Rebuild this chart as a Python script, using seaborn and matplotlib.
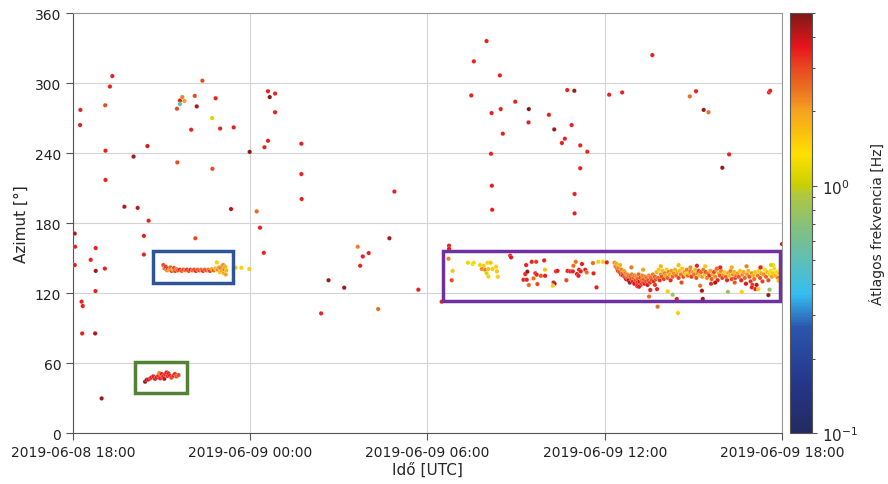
import numpy as np
import pandas as pd
import seaborn as sns
import matplotlib
matplotlib.use("Agg")
from matplotlib import pyplot as plt
from matplotlib.colors import LogNorm, LinearSegmentedColormap
from matplotlib.patches import Rectangle
import matplotlib.dates as mdates

T0 = pd.Timestamp("2019-06-08 18:00")

# scattered detections: hours after T0, azimuth [deg], mean frequency [Hz]
scat_h = [0.06, 0.07, 0.06, 0.24, 0.25, 0.29, 0.33, 0.31, 0.75, 0.6, 0.77, 0.76, 0.77, 0.97,
          1.09, 1.1, 1.1, 1.08, 1.25, 1.33, 1.74, 2.05, 2.19, 2.4, 2.52, 2.56, 2.4, 3.52, 3.53,
          3.62, 3.62, 3.7, 3.77, 4.0, 4.12, 4.14, 4.19, 4.38, 4.71, 4.72, 4.83, 4.98, 5.35, 5.44,
          5.98, 6.22, 6.33, 6.46, 6.48, 6.6, 6.6, 6.66, 6.84, 6.84, 7.73, 7.73, 7.74, 8.4, 8.65,
          9.18, 9.64, 9.72, 9.81, 10.01, 10.33, 10.71, 10.88, 11.69, 12.48,
          13.48, 13.57, 14.0, 14.15, 14.17, 14.18, 14.19, 14.45, 14.48, 14.55, 14.97, 15.42,
          15.43, 16.11, 16.29, 16.55, 16.65, 16.73, 16.88, 16.97, 16.98, 16.98, 17.17, 17.17,
          17.41, 18.15, 18.59, 19.61, 20.88, 21.09, 21.35, 21.51, 21.98, 22.21, 23.56, 23.6, 24.0]
scat_az = [171, 159.7, 144, 264, 277, 112.6, 108.9, 85.4, 85.4, 148.5, 139, 121.7, 158.6, 29.7,
           281, 242, 217, 141, 297, 306, 194, 237, 193, 169, 246, 182, 153, 278, 232,
           285, 282, 288, 284.6, 260, 289, 167, 280, 302, 270, 226.5, 287, 261, 192, 262,
           241, 190, 176, 154.5, 245, 250.5, 293, 288, 291, 275, 248, 222, 200.6, 102.6, 131,
           124.6, 159.7, 143.4, 151.4, 154.3, 106.3, 167, 207, 122.9, 112.6,
           289.4, 318.6, 336, 239.4, 274.3, 212, 191.4, 306.6, 277.7, 256.6, 284, 266.3,
           277.7, 272.8, 260.3, 248.6, 252.3, 294, 264, 293.4, 204.9, 188.3, 246.6, 227,
           241.1, 290, 292, 324, 288.6, 293, 277, 275, 227.4, 238.9, 292, 293.4, 162]
scat_f = [4.2, 3.5, 3.5, 3.5, 3.5, 3.5, 3.5, 3.5, 4.3, 3.5, 4.5, 3.5, 3.5, 4.5,
          3.0, 3.5, 3.5, 3.5, 3.5, 3.5, 4.2, 4.5, 4.2, 3.5, 3.8, 3.5, 3.5, 3.0, 3.0,
          3.6, 0.5, 2.3, 2.0, 3.5, 3.0, 3.0, 4.3, 3.0, 1.1, 3.0, 3.5, 3.5, 4.2, 3.5,
          4.8, 2.6, 3.5, 3.5, 3.5, 3.5, 3.5, 4.8, 3.5, 3.5, 3.5, 3.5, 3.5, 3.5, 4.5,
          4.5, 2.3, 3.5, 3.5, 3.5, 2.5, 4.5, 3.5, 3.5, 3.5,
          3.5, 3.5, 3.5, 3.5, 3.5, 3.5, 3.5, 3.5, 3.5, 3.5, 3.5, 3.5,
          4.8, 3.5, 4.5, 3.5, 3.5, 3.5, 3.5, 4.5, 3.5, 3.5, 3.5, 3.5,
          3.5, 3.5, 3.5, 3.5, 2.5, 3.5, 4.5, 2.5, 4.5, 3.5, 3.5, 3.5, 3.5]

# cluster in the blue box
blue_h = [3.06, 3.10, 3.14, 3.18, 3.22, 3.26, 3.30, 3.34, 3.38, 3.42, 3.46, 3.50, 3.56, 3.62,
          3.68, 3.74, 3.80, 3.86, 3.92, 3.98, 4.04, 4.10, 4.16, 4.22, 4.28, 4.34, 4.40, 4.46,
          4.52, 4.58, 4.64, 4.70, 4.76, 4.82, 4.87, 4.90, 4.94, 4.97, 5.00, 5.03, 5.06, 5.09,
          5.11, 5.13, 5.15, 5.17, 5.19, 5.50, 5.70, 5.97]
blue_az = [144, 141, 142.5, 139.5, 141, 140, 142, 139, 140.5, 141.5, 139, 140.5, 139.5, 140,
           139, 140, 139.5, 140, 139, 140, 139.5, 140, 139, 140, 139.5, 140, 139, 140,
           139.5, 140, 139, 140.5, 139.5, 141, 146.3, 140, 142, 138, 141.5, 139, 143.5, 144,
           137, 140.5, 142.5, 136, 139.5, 141.7, 141.7, 140.6]
blue_f = [3.0, 2.5, 3.2, 2.2, 3.4, 2.0, 2.6, 3.0, 1.8, 2.8, 3.3, 2.4, 3.0, 3.5,
          2.7, 3.1, 2.5, 3.3, 2.9, 3.5, 2.6, 3.0, 3.4, 2.7, 3.1, 2.5, 3.3, 2.8,
          3.0, 2.4, 3.2, 2.0, 2.6, 1.7, 1.5, 2.2, 2.0, 1.6, 2.4, 1.8, 2.3, 2.2,
          1.9, 2.5, 1.8, 2.0, 1.7, 1.5, 1.5, 1.5]

# cluster in the green box
green_h = [2.44, 2.50, 2.56, 2.62, 2.66, 2.72, 2.78, 2.83, 2.89, 2.92, 2.95, 3.00, 3.03,
           3.06, 3.09, 3.12, 3.17, 3.20, 3.23, 3.28, 3.33, 3.40, 3.45, 3.50, 3.57]
green_az = [44, 45.7, 46, 47, 47.7, 48.6, 46.5, 47.7, 49.1, 51.4, 46.9, 50.6, 48,
            48.6, 46.5, 50.6, 52, 49, 51.1, 49.1, 47.5, 49.1, 50.6, 48.5, 49.7]
green_f = [4.5, 4.5, 4.0, 3.5, 3.5, 3.5, 4.2, 3.5, 3.5, 2.3, 3.5, 3.5, 3.8,
           3.5, 4.0, 3.5, 3.5, 3.5, 3.5, 3.5, 3.0, 3.5, 3.3, 2.8, 3.0]

# purple box, before the dense band
purp_h = [12.73, 12.73, 12.71, 12.85, 12.82, 13.37, 13.53, 13.57, 13.78, 13.9, 14.03, 14.14,
          13.84, 13.95, 14.06, 14.2, 14.32, 14.0, 14.06, 14.35, 14.38, 14.8, 14.83, 15.34,
          15.53, 15.68, 15.95, 15.31, 15.38, 15.65, 15.7, 15.84, 15.98, 15.98, 15.25, 15.36,
          15.59, 15.43, 15.72, 16.27, 16.3, 16.24, 16.35, 16.4, 16.7, 16.74, 16.83, 16.94,
          17.02, 16.92, 17.13, 17.23, 17.34, 17.39, 17.6, 17.62, 17.78, 17.94, 18.07, 17.72,
          17.06, 17.11, 17.19]
purp_az = [160.6, 158, 149.4, 139, 131, 146, 145, 146, 144, 143.4, 146, 146,
           140.6, 140, 140.6, 140.6, 142.6, 137, 134.3, 138.6, 134, 152, 150.6, 144,
           146.8, 146.8, 148, 136.3, 138.3, 137, 135.7, 134.8, 134.8, 140, 131.4, 131.4,
           132.6, 126.9, 127.7, 129, 128, 126.3, 138.6, 139, 131, 139, 138.6, 143.4,
           146.8, 138.6, 140, 144.9, 140, 137.7, 145.7, 136.9, 146.8, 146.8, 146.3, 124.9,
           136.3, 134.8, 138.6]
purp_f = [3.5, 3.6, 2.3, 1.6, 3.0, 1.2, 1.2, 1.3, 1.5, 1.5, 1.5, 1.6,
          2.2, 2.3, 1.6, 1.5, 1.5, 1.1, 1.5, 1.6, 1.5, 3.5, 3.6, 3.5,
          3.5, 3.2, 3.5, 3.5, 4.5, 3.5, 3.4, 2.8, 3.5, 1.6, 3.5, 3.5,
          2.5, 2.5, 3.0, 4.5, 4.3, 1.5, 3.5, 3.6, 3.0, 3.5, 3.5, 2.5,
          2.5, 3.5, 3.5, 3.5, 3.5, 2.5, 2.5, 3.5, 1.5, 1.5, 3.5, 3.5,
          3.5, 3.5, 3.5]

# dense band (from about 12:20 to the end of the day)
band_h = [18.33, 18.36, 18.40, 18.42, 18.45, 18.47, 18.50, 18.52, 18.55, 18.57, 18.60, 18.62,
          18.65, 18.67, 18.70, 18.72, 18.75, 18.77, 18.80, 18.82,
          18.85, 18.87, 18.90, 18.92, 18.95, 18.97, 19.00, 19.02, 19.05, 19.07, 19.10, 19.12,
          19.15, 19.17, 19.20, 19.22, 19.25, 19.27, 19.30, 19.32, 19.35, 19.37, 19.40, 19.42,
          19.45, 19.47, 19.50,
          19.53, 19.56, 19.60, 19.63, 19.66, 19.70, 19.73, 19.76, 19.80, 19.83, 19.86, 19.90,
          19.93, 19.96, 20.00, 20.03, 20.06, 20.10, 20.13, 20.16, 20.20, 20.23, 20.26, 20.30,
          20.34, 20.38, 20.42, 20.46, 20.50, 20.54, 20.58, 20.62, 20.66, 20.70, 20.74, 20.78,
          20.82, 20.86, 20.90, 20.94, 20.98, 21.02, 21.06, 21.10, 21.14, 21.18, 21.22, 21.26,
          21.30, 21.34, 21.38, 21.42, 21.46,
          21.50, 21.54, 21.58, 21.62, 21.66, 21.70, 21.74, 21.78, 21.82, 21.86, 21.90, 21.94,
          21.98, 22.02, 22.06, 22.10, 22.14, 22.18, 22.22, 22.26, 22.30, 22.34, 22.38, 22.42,
          22.46,
          22.50, 22.54, 22.58, 22.62, 22.66, 22.70, 22.74, 22.78, 22.82, 22.86, 22.90, 22.94,
          22.98, 23.02, 23.06, 23.10, 23.14, 23.18, 23.22, 23.26, 23.30, 23.34, 23.38, 23.42,
          23.46, 23.50, 23.54, 23.58, 23.62, 23.66, 23.70, 23.74, 23.78, 23.82, 23.86, 23.90,
          23.94,
          18.9, 19.3, 19.9, 20.5, 20.9, 21.4, 21.8, 22.3, 22.8, 23.3, 23.7,
          19.1, 19.7, 20.6, 21.6, 22.4, 23.0,
          19.16, 19.54, 19.77, 20.13, 20.3, 20.44, 19.5, 19.79, 20.48, 21.12, 21.23, 21.29,
          21.32, 21.74, 21.91, 22.17, 22.64, 22.98, 23.1, 23.2, 23.54, 23.58, 23.63, 23.88, 23.27]
band_az = [146, 143, 145, 141, 139, 142, 138, 144, 136, 140, 137, 135,
           139, 134, 137, 132, 136, 133, 131, 135,
           129, 134, 132, 136, 130, 133, 128, 135, 131, 134, 129, 132,
           136, 130, 133, 127, 131, 135, 129, 132, 128, 134, 130, 133,
           127, 131, 135,
           129, 133, 131, 136, 130, 134, 132, 138, 133, 140, 131, 136,
           134, 139, 132, 137, 135, 140, 133, 138, 136, 131, 139, 134,
           137, 140, 135, 138, 133, 139, 136, 141, 134, 138, 136, 140,
           135, 137, 139, 134, 138, 136, 140, 133, 137, 139, 135, 138,
           134, 140, 136, 138, 133,
           137, 135, 139, 132, 136, 138, 134, 140, 131, 137, 135, 139,
           133, 136, 138, 134, 131, 137, 135, 139, 132, 136, 138, 133,
           135,
           137, 134, 139, 131, 136, 138, 133, 128, 136, 139, 134, 130,
           137, 135, 132, 138, 127, 135, 139, 133, 137, 130, 136, 140,
           134, 138, 131, 136, 139, 134, 137, 141, 135, 138, 133, 137,
           140,
           142, 140, 143, 144, 142, 143, 141, 142, 143, 142, 144,
           126, 127, 129, 128, 129, 127,
           125.4, 122.6, 123.4, 121.4, 118.6, 114.9, 117, 108.3, 102.9, 143.4, 126.3, 122,
           115, 129, 142, 121, 121, 124.9, 123.4, 123.4, 118.3, 122.9, 144, 130.5, 142]
band_f = [2.2, 2.4, 1.9, 2.6, 3.0, 2.2, 2.8, 1.8, 3.2, 2.3, 2.6, 3.4,
          2.0, 2.9, 2.4, 3.6, 2.2, 2.7, 4.2, 2.5,
          4.5, 2.8, 3.1, 2.3, 3.5, 2.6, 3.8, 2.4, 3.0, 2.2, 3.3, 2.7,
          2.5, 3.9, 2.9, 3.4, 2.6, 2.3, 3.1, 2.8, 3.6, 2.4, 3.0, 2.5,
          3.7, 2.9, 2.2,
          3.2, 2.6, 3.0, 2.3, 3.5, 2.7, 2.9, 1.8, 2.5, 1.6, 3.3, 2.2,
          2.8, 1.7, 3.0, 2.4, 2.0, 1.5, 2.7, 2.3, 1.9, 3.4, 2.1, 2.6,
          2.2, 1.8, 2.6, 2.0, 3.1, 1.7, 2.4, 1.6, 2.9, 2.1, 1.5, 2.3,
          2.7, 1.9, 2.5, 3.2, 2.0, 2.4, 1.7, 2.8, 2.2, 3.0, 1.8, 2.6,
          2.1, 2.4, 1.6, 2.9, 2.3,
          2.5, 3.3, 2.0, 2.7, 1.8, 3.0, 2.2, 2.5, 3.6, 1.9, 2.8, 2.3,
          3.1, 2.0, 1.5, 2.6, 3.4, 2.1, 1.7, 2.4, 2.9, 2.2, 1.8, 3.2,
          2.5,
          2.0, 2.7, 1.6, 3.5, 2.3, 1.9, 2.6, 3.8, 2.1, 1.7, 2.9, 3.3,
          2.2, 1.8, 2.5, 1.6, 4.0, 2.4, 1.5, 2.8, 1.9, 3.1, 2.2, 1.4,
          2.6, 1.7, 3.0, 1.5, 1.3, 2.0, 1.6, 1.3, 1.8, 1.4, 2.3, 1.5,
          1.4,
          2.4, 2.0, 1.8, 1.7, 2.2, 1.6, 2.5, 1.9, 2.3, 1.8, 1.5,
          3.6, 3.2, 3.0, 3.4, 2.8, 3.3,
          3.5, 3.5, 3.5, 1.5, 0.8, 3.5, 2.5, 2.5, 1.5, 3.5, 2.5, 4.5,
          4.5, 4.5, 3.5, 0.8, 1.5, 3.5, 3.5, 1.5, 4.5, 0.75, 1.1, 1.5, 3.5]

# boxes: (start hour, end hour, az min, az max, colour)
box_h0 = [2.71, 2.1, 12.53]
box_h1 = [5.42, 3.86, 23.94]
box_a0 = [128.6, 34.3, 113.0]
box_a1 = [156.0, 60.9, 156.0]
box_col = ["#2f5597", "#548235", "#7030a0"]

frames = []
for hh, aa, ff in [(scat_h, scat_az, scat_f), (blue_h, blue_az, blue_f),
                   (green_h, green_az, green_f), (purp_h, purp_az, purp_f),
                   (band_h, band_az, band_f)]:
    frames.append(pd.DataFrame({"h": hh, "az": aa, "freq": ff}))
d = pd.concat(frames, ignore_index=True)
d["time"] = T0 + pd.to_timedelta(d["h"], unit="h")

cmap = LinearSegmentedColormap.from_list("freq", [
    (0.0, "#232a5e"), (0.12, "#25378a"), (0.25, "#2b55ad"), (0.33, "#35bdf0"),
    (0.42, "#62bfb0"), (0.49, "#84c07c"), (0.57, "#b2c83c"), (0.59, "#c8d000"),
    (0.665, "#ffe000"), (0.77, "#f5a020"), (0.82, "#ec7020"), (0.88, "#e84020"),
    (0.92, "#e8141c"), (0.975, "#a01818"), (1.0, "#7f1818")])
norm = LogNorm(vmin=0.1, vmax=5)

sns.set_style("whitegrid", {"xtick.bottom": True, "ytick.left": True,
                            "grid.color": "#d4d4d4", "axes.edgecolor": "#999999"})
plt.rcParams["font.family"] = ["DejaVu Sans"]

fig = plt.figure(figsize=(8.88, 4.85), dpi=100)
ax = fig.add_axes([0.0822, 0.105, 0.7984, 0.866])
cax = fig.add_axes([0.8896, 0.105, 0.0248, 0.866])

sns.scatterplot(data=d, x="time", y="az", hue="freq", hue_norm=norm, palette=cmap,
                legend=False, s=10, edgecolor="white", linewidth=0.15, ax=ax, zorder=3)

for h0, h1, a0, a1, c in zip(box_h0, box_h1, box_a0, box_a1, box_col):
    x0 = mdates.date2num(T0 + pd.Timedelta(hours=h0))
    x1 = mdates.date2num(T0 + pd.Timedelta(hours=h1))
    ax.add_patch(Rectangle((x0, a0), x1 - x0, a1 - a0, fill=False, edgecolor=c,
                           linewidth=2.5, zorder=4))

ax.set_xlim(T0, T0 + pd.Timedelta(hours=24))
ax.set_ylim(0, 360)
ax.set_yticks([0, 60, 120, 180, 240, 300, 360])
ax.set_xticks([T0 + pd.Timedelta(hours=k) for k in [0, 6, 12, 18, 24]])
ax.xaxis.set_major_formatter(mdates.DateFormatter("%Y-%m-%d %H:%M"))
ax.tick_params(axis="both", labelsize=10, length=5, color="#555555", labelcolor="#222222")
for s in ["left", "bottom"]:
    ax.spines[s].set_color("#555555")
for s in ["top", "right"]:
    ax.spines[s].set_color("#999999")
ax.set_xlabel("Idő [UTC]", fontsize=11, labelpad=2)
ax.set_ylabel("Azimut [°]", fontsize=11)

sm = plt.cm.ScalarMappable(norm=norm, cmap=cmap)
cb = fig.colorbar(sm, cax=cax)
cb.outline.set_edgecolor("#555555")
cb.ax.tick_params(labelsize=11, color="#555555")
cb.set_label("Átlagos frekvencia [Hz]", fontsize=10, labelpad=8)

fig.savefig("out.png", dpi=100)
